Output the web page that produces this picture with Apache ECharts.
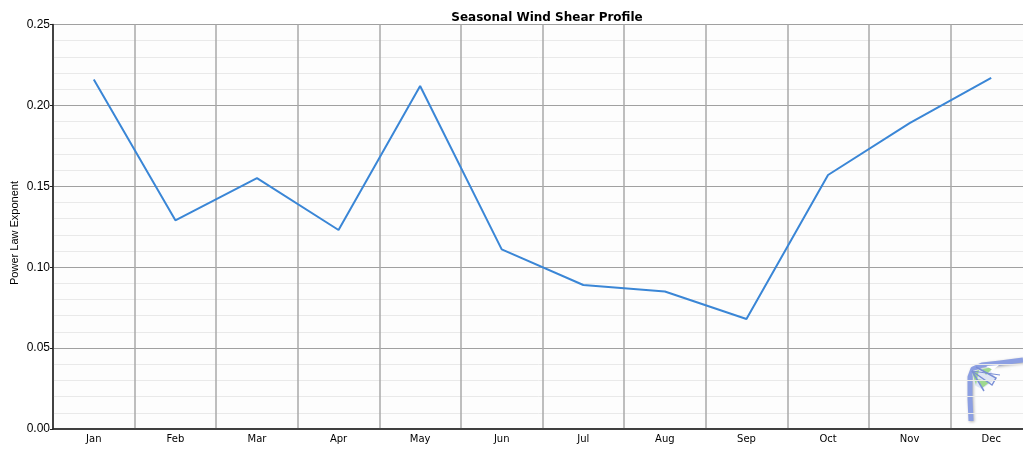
<!DOCTYPE html>
<html>
<head>
<meta charset="utf-8">
<script src="https://cdn.jsdelivr.net/npm/echarts@6/dist/echarts.min.js"></script>
<style>
html,body{margin:0;padding:0;background:#fff;}
#main{width:1023px;height:450px;}
</style>
</head>
<body>
<div id="main"></div>
<script>
// months and the power law exponent
var months = ['Jan','Feb','Mar','Apr','May','Jun','Jul','Aug','Sep','Oct','Nov','Dec'];
var shear = [0.216, 0.129, 0.155, 0.123, 0.212, 0.111, 0.089, 0.085, 0.068, 0.157, 0.189, 0.217];
var yTicks = [0, 0.05, 0.10, 0.15, 0.20, 0.25];
var yName = 'Power Law Exponent';

var chart = echarts.init(document.getElementById('main'));

var option = {
    backgroundColor: '#ffffff',
    animation: false,
    title: {
        text: 'Seasonal Wind Shear Profile',
        left: 542,
        textAlign: 'center',
        top: 7,
        textStyle: {fontFamily: 'DejaVu Sans', fontWeight: 'bold', fontSize: 12, color: '#000'}
    },
    grid: {
        left: 53,
        top: 24.5,
        width: 979,
        height: 404.5,
        containLabel: false,
        outerBoundsMode: 'none',
        show: true,
        backgroundColor: '#fdfdfd',
        borderColor: '#333',
        borderWidth: 1
    },
    xAxis: {
        type: 'category',
        data: months,
        boundaryGap: true,
        axisLine: {lineStyle: {color: '#222', width: 1.5}},
        axisTick: {show: false},
        axisLabel: {fontFamily: 'DejaVu Sans', fontSize: 10, color: '#000', margin: 5},
        splitLine: {show: true, interval: 0, lineStyle: {color: '#a8a8a8', width: 1.5}}
    },
    yAxis: {
        type: 'value',
        min: yTicks[0],
        max: yTicks[yTicks.length - 1],
        interval: 0.05,
        axisLine: {show: true, lineStyle: {color: '#222', width: 1.5}},
        axisTick: {show: true, length: 3, lineStyle: {color: '#222'}},
        axisLabel: {
            fontFamily: 'Liberation Sans', fontSize: 12, color: '#000', margin: 3,
            formatter: function (v) { return v.toFixed(2); }
        },
        splitLine: {show: true, lineStyle: {color: '#a0a0a0', width: 1.2}},
        minorTick: {show: false, splitNumber: 5},
        minorSplitLine: {show: true, lineStyle: {color: '#e9e9e9', width: 1}}
    },
    series: [{
        type: 'line',
        data: shear,
        symbol: 'none',
        lineStyle: {color: '#3a86d6', width: 2},
        z: 5
    }],
    graphic: [{
        // y axis title, axis name kept getting pushed left
        type: 'text',
        x: 15,
        y: 233,
        rotation: Math.PI / 2,
        silent: true,
        style: {
            text: yName,
            fontFamily: 'Liberation Sans',
            fontSize: 11,
            fill: '#000',
            textAlign: 'center',
            textVerticalAlign: 'middle'
        }
    }, {
        // faded logo in the corner
        type: 'group',
        x: 966,
        y: 359,
        silent: true,
        children: [
            {type: 'polyline', shape: {points: [[5,62],[4,40],[4,18],[7,10],[16,6],[34,4],[57,1]]},
             style: {stroke: '#8c9fe2', lineWidth: 5, fill: null, lineJoin: 'round', shadowBlur: 3, shadowColor: 'rgba(0,0,0,0.3)', shadowOffsetX: 1, shadowOffsetY: 1}},
            {type: 'polygon', shape: {points: [[6,12],[22,8],[30,20],[16,30],[8,26]]}, style: {fill: '#dfe6f5'}},
            {type: 'polygon', shape: {points: [[6,13],[13,11],[10,26]]}, style: {fill: '#9fd98e'}},
            {type: 'polygon', shape: {points: [[16,10],[28,8],[20,16]]}, style: {fill: '#9fd98e'}},
            {type: 'polygon', shape: {points: [[12,20],[24,23],[16,29]]}, style: {fill: '#9fd98e'}},
            {type: 'polygon', shape: {points: [[20,7],[33,6],[27,11]]}, style: {fill: '#ffffff'}},
            {type: 'polyline', shape: {points: [[6,12],[26,26],[30,19],[10,8]]}, style: {stroke: '#7a8fd6', lineWidth: 1.5, fill: null}},
            {type: 'line', shape: {x1: 6, y1: 12, x2: 18, y2: 32}, style: {stroke: '#7a8fd6', lineWidth: 1.5}},
            {type: 'line', shape: {x1: 6, y1: 12, x2: 34, y2: 16}, style: {stroke: '#7a8fd6', lineWidth: 1}}
        ]
    }]
};

chart.setOption(option);
</script>
</body>
</html>
